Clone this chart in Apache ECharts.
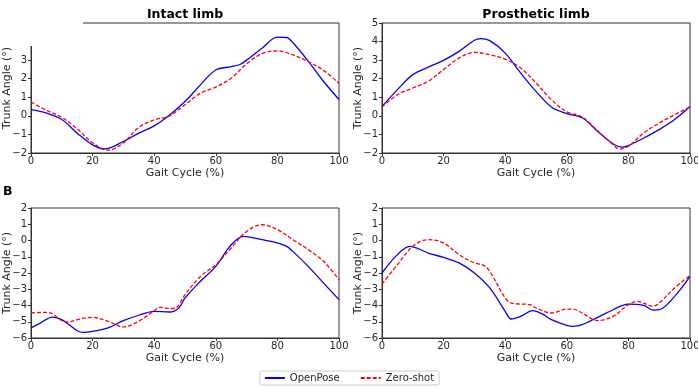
<!DOCTYPE html>
<html><head><meta charset="utf-8">
<script src="https://cdn.jsdelivr.net/npm/echarts@6/dist/echarts.min.js"></script>
<style>html,body{margin:0;padding:0;background:#fff}#c{width:698px;height:389px}</style>
</head><body><div id="c"></div>
<script>
// Titles / labels
const panelTitles = ["Intact limb", "Prosthetic limb"];
const seriesNames = ["OpenPose", "Zero-shot"];
const xTicks = [0, 20, 40, 60, 80, 100];

// A – Intact limb
const intactOpX = [0,5,10,15,20,24,30,35,40,45,50,55,60,65,68,70,75,80,83,85,90,95,100];
const intactOpY = [0.33,0.15,-0.2,-0.93,-1.56,-1.78,-1.38,-0.93,-0.54,0.05,0.77,1.67,2.47,2.65,2.78,3.0,3.64,4.24,4.22,3.95,2.95,1.85,0.88];
const intactZsX = [0,5,10,15,20,25,30,35,40,45,50,55,60,65,70,75,80,85,90,95,100];
const intactZsY = [0.75,0.3,-0.08,-0.7,-1.45,-1.85,-1.45,-0.62,-0.22,0.0,0.6,1.22,1.55,2.03,2.8,3.35,3.5,3.28,2.92,2.45,1.75];

// A – Prosthetic limb
const prosOpX = [0,5,10,15,20,25,30,32,35,40,45,50,55,60,65,70,75,78,80,85,90,95,100];
const prosOpY = [0.5,1.41,2.22,2.62,2.99,3.47,4.07,4.16,4.05,3.38,2.31,1.32,0.48,0.12,-0.1,-0.83,-1.5,-1.68,-1.6,-1.19,-0.74,-0.2,0.5];
const prosZsX = [0,5,10,15,20,25,30,35,40,45,50,55,60,65,70,75,77,80,85,90,95,100];
const prosZsY = [0.47,1.14,1.5,1.86,2.49,3.11,3.42,3.29,3.05,2.58,1.77,0.87,0.22,-0.06,-0.8,-1.55,-1.78,-1.64,-0.92,-0.39,0.06,0.48];

// B – Intact limb
const bIntOpX = [0,3,7,10,15,17,20,25,30,35,40,45,48,50,55,60,65,69,75,80,83,85,90,95,100];
const bIntOpY = [-5.38,-5.08,-4.71,-4.87,-5.55,-5.65,-5.59,-5.38,-4.93,-4.6,-4.36,-4.4,-4.15,-3.54,-2.51,-1.59,-0.26,0.26,0.05,-0.15,-0.36,-0.67,-1.59,-2.62,-3.64];
const bIntZsX = [0,5,7,10,12,15,20,25,30,35,40,42,45,47,50,55,60,65,70,75,80,85,90,95,100];
const bIntZsY = [-4.46,-4.42,-4.52,-4.93,-5.02,-4.87,-4.73,-4.97,-5.32,-4.97,-4.32,-4.11,-4.19,-4.15,-3.33,-2.21,-1.49,-0.46,0.56,0.97,0.67,0.05,-0.56,-1.28,-2.41];

// B – Prosthetic limb
const bProOpX = [0,5,9,15,20,25,30,35,40,42,45,49,52,55,60,62,65,70,75,80,85,88,90,95,100];
const bProOpY = [-2.0,-0.87,-0.36,-0.77,-1.04,-1.38,-2.0,-2.92,-4.36,-4.83,-4.67,-4.32,-4.52,-4.87,-5.22,-5.28,-5.18,-4.73,-4.26,-3.91,-3.99,-4.28,-4.26,-3.44,-2.21];
const bProZsX = [0,5,10,15,20,25,30,33,35,40,42,48,50,55,60,62,65,70,75,80,83,85,88,90,95,100];
const bProZsY = [-2.68,-1.49,-0.36,0.05,-0.15,-0.87,-1.38,-1.53,-1.9,-3.54,-3.85,-3.95,-4.15,-4.46,-4.22,-4.22,-4.46,-4.93,-4.67,-3.95,-3.74,-3.85,-4.05,-3.85,-2.92,-2.16];

const pair = (xs, ys) => xs.map((x, i) => [x, ys[i]]);
const FONT = "DejaVu Sans";
const TXT = "#262626";

const grids = [
  {left: 31, right: 359, top: 23, bottom: 236},
  {left: 382, right: 8, top: 23, bottom: 236},
  {left: 31, right: 359, top: 208, bottom: 51},
  {left: 382, right: 8, top: 208, bottom: 51}
];
const yRanges = [[-2,5],[-2,5],[-6,2],[-6,2]];

const chart = echarts.init(document.getElementById('c'), null, {renderer: 'canvas'});
const option = {
  animation: false,
  backgroundColor: '#fff',
  textStyle: {fontFamily: FONT},
  title: [
    {text: panelTitles[0], left: 185, top: 8, padding: 0, textAlign: 'center', textStyle: {fontFamily: FONT, fontWeight: 'bold', fontSize: 12.5, color: '#000'}},
    {text: panelTitles[1], left: 536, top: 8, padding: 0, textAlign: 'center', textStyle: {fontFamily: FONT, fontWeight: 'bold', fontSize: 12.5, color: '#000'}},
    {text: 'B', left: 3, top: 185, padding: 0, textStyle: {fontFamily: FONT, fontWeight: 'bold', fontSize: 12.5, color: '#000'}}
  ],
  grid: grids.map(g => Object.assign({show: true, borderColor: '#333', borderWidth: 1, containLabel: false, outerBoundsMode: 'none'}, g)),
  xAxis: grids.map((g, i) => ({
    type: 'value', gridIndex: i, min: 0, max: 100, interval: 20,
    name: 'Gait Cycle (%)', nameLocation: 'middle', nameGap: 14.5, nameMoveOverlap: false,
    nameTextStyle: {fontFamily: FONT, fontSize: 11, color: TXT},
    axisLine: {show: true, onZero: false, lineStyle: {color: '#333', width: 1}},
    axisTick: {show: true, inside: false, length: 3, lineStyle: {color: '#333'}},
    axisLabel: {fontFamily: FONT, fontSize: 10, color: TXT, margin: 3.5},
    splitLine: {show: false}
  })),
  yAxis: grids.map((g, i) => ({
    type: 'value', gridIndex: i, min: yRanges[i][0], max: yRanges[i][1], interval: 1,
    name: 'Trunk Angle (°)', nameLocation: 'middle', nameGap: 18.5, nameRotate: 90, nameMoveOverlap: false,
    nameTextStyle: {fontFamily: FONT, fontSize: 11, color: TXT},
    axisLine: {show: true, onZero: false, lineStyle: {color: '#333', width: 1}},
    axisTick: {show: true, inside: false, length: 3, lineStyle: {color: '#333'}},
    axisLabel: {fontFamily: FONT, fontSize: 10, color: TXT, margin: 4,
      formatter: v => (v < 0 ? '\u2212' + Math.abs(v) : String(v))},
    splitLine: {show: false}
  })),
  legend: {
    top: 371, left: 'center', orient: 'horizontal',
    data: seriesNames,
    itemWidth: 20, itemHeight: 8, itemGap: 20,
    itemStyle: {opacity: 0},
    borderColor: '#ccc', borderWidth: 1, borderRadius: 2, padding: [2, 5, 2, 4],
    textStyle: {fontFamily: FONT, fontSize: 10, color: TXT}
  },
  graphic: [
    {type: 'rect', shape: {x: 0, y: 0, width: 83, height: 46}, style: {fill: '#fff'}, z: 100}
  ],
  series: []
};

const panels = [
  [intactOpX, intactOpY, intactZsX, intactZsY],
  [prosOpX, prosOpY, prosZsX, prosZsY],
  [bIntOpX, bIntOpY, bIntZsX, bIntZsY],
  [bProOpX, bProOpY, bProZsX, bProZsY]
];
panels.forEach((p, i) => {
  option.series.push({
    name: seriesNames[0], type: 'line', xAxisIndex: i, yAxisIndex: i,
    data: pair(p[0], p[1]), smooth: 0.35, symbol: 'none',
    lineStyle: {color: '#0000ff', width: 1.3}, itemStyle: {color: '#0000ff'}
  });
  option.series.push({
    name: seriesNames[1], type: 'line', xAxisIndex: i, yAxisIndex: i,
    data: pair(p[2], p[3]), smooth: 0.35, symbol: 'none',
    lineStyle: {color: '#ff0000', width: 1.3, type: [4, 2]}, itemStyle: {color: '#ff0000'}
  });
});

chart.setOption(option);
</script>
</body></html>
